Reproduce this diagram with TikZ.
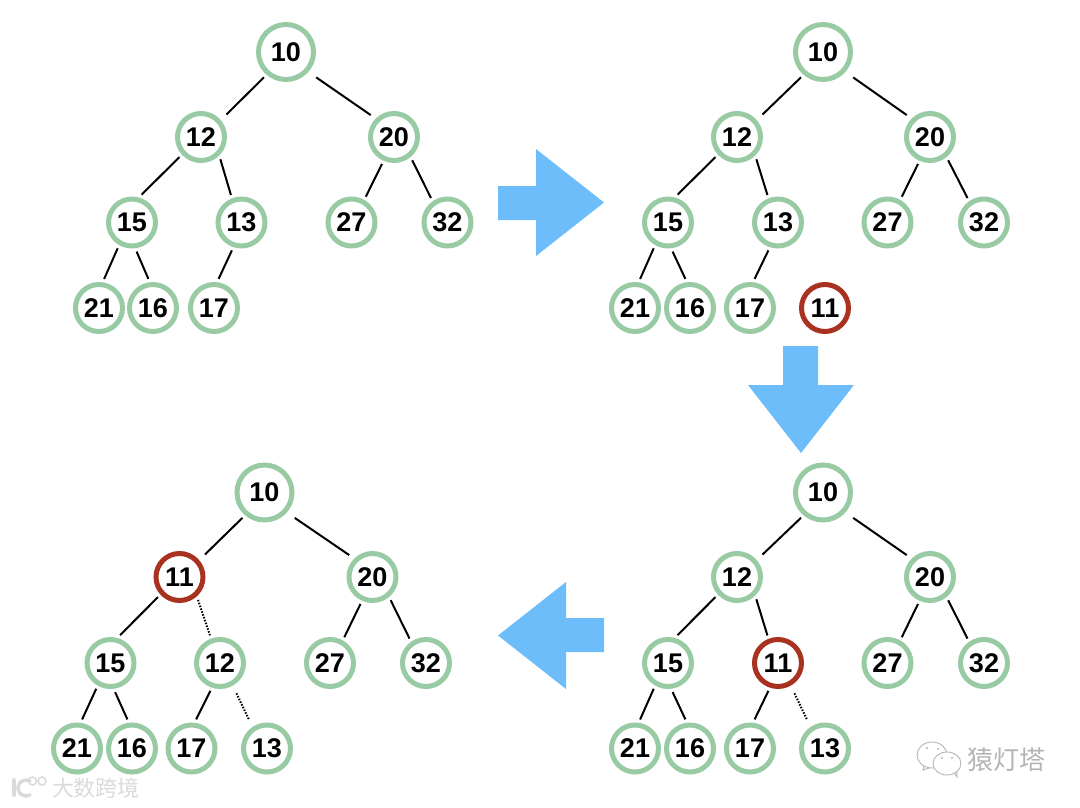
\documentclass[tikz,border=0pt]{standalone}
\usepackage{fontspec}
\setmainfont{Liberation Sans}
\newfontfamily\cjk{Noto Sans CJK SC}
\definecolor{ringgreen}{HTML}{98CBA4}
\definecolor{ringred}{HTML}{A8321F}
\definecolor{arrowblue}{HTML}{6DBDFA}
\definecolor{markgray}{HTML}{DADADA}
\definecolor{chatgray}{HTML}{B4B4B4}

\begin{document}
\begin{tikzpicture}[
    x=1pt, y=-1pt,
    heap_node/.style={circle, draw=ringgreen, line width=5pt, fill=white, inner sep=0pt, outer sep=6pt, minimum size=47pt, font=\fontsize{27}{27}\selectfont\bfseries},
    root_node/.style={heap_node, minimum size=55pt},
    new_node/.style={heap_node, draw=ringred},
    edge_line/.style={line width=2pt},
    left_line/.style={edge_line, shorten >=4.5pt},
    right_line/.style={edge_line, shorten <=6pt, shorten >=2.5pt},
    moved_line/.style={line width=2pt, dash pattern=on 1.5pt off 1.5pt, shorten <=5pt, shorten >=5pt},
    block_arrow/.style={fill=arrowblue},
    mark_text/.style={inner sep=0pt},
    bubble/.style={draw=chatgray, fill=white, line width=0.9pt}
]
    \useasboundingbox (0,0) rectangle (1080,808);

    % first heap
    \node[root_node] (A10) at (286,52) {10};
    \node[heap_node] (A12) at (201,137) {12};
    \node[heap_node] (A20) at (394,137) {20};
    \node[heap_node] (A15) at (132,222.5) {15};
    \node[heap_node] (A13) at (241.5,222.5) {13};
    \node[heap_node] (A27) at (351.5,222.5) {27};
    \node[heap_node] (A32) at (447.5,222.5) {32};
    \node[heap_node] (A21) at (99,308) {21};
    \node[heap_node] (A16) at (153,308) {16};
    \node[heap_node] (A17) at (214,308) {17};
    \draw [left_line] (A10.229) -- (A12.41);
    \draw [right_line] (A10.319) -- (A20.136);
    \draw [edge_line] (A12.223) -- (A15.71);
    \draw [edge_line] (A12.311) -- (A13.111);
    \draw [edge_line] (A20.246) -- (A27.61);
    \draw [edge_line] (A20.308) -- (A32.124);
    \draw [edge_line] (A15.241) -- (A21.80);
    \draw [edge_line] (A15.279) -- (A16.99);
    \draw [edge_line] (A13.251) -- (A17.81);

    % second heap
    \node[root_node] (B10) at (823,52) {10};
    \node[heap_node] (B12) at (737,137) {12};
    \node[heap_node] (B20) at (930,137) {20};
    \node[heap_node] (B15) at (668,222.5) {15};
    \node[heap_node] (B13) at (778,222.5) {13};
    \node[heap_node] (B27) at (887.5,222.5) {27};
    \node[heap_node] (B32) at (984,222.5) {32};
    \node[heap_node] (B21) at (635,308) {21};
    \node[heap_node] (B16) at (690,308) {16};
    \node[heap_node] (B17) at (750,308) {17};
    \node[new_node] (B11) at (825,308) {11};
    \draw [left_line] (B10.229) -- (B12.41);
    \draw [right_line] (B10.319) -- (B20.136);
    \draw [edge_line] (B12.223) -- (B15.71);
    \draw [edge_line] (B12.311) -- (B13.111);
    \draw [edge_line] (B20.246) -- (B27.61);
    \draw [edge_line] (B20.308) -- (B32.124);
    \draw [edge_line] (B15.241) -- (B21.80);
    \draw [edge_line] (B15.279) -- (B16.99);
    \draw [edge_line] (B13.251) -- (B17.81);

    % third heap
    \node[root_node] (C10) at (823,492.5) {10};
    \node[heap_node] (C12) at (737,577) {12};
    \node[heap_node] (C20) at (930,577) {20};
    \node[heap_node] (C15) at (668,663) {15};
    \node[new_node] (C11) at (778,663) {11};
    \node[heap_node] (C27) at (887.5,663) {27};
    \node[heap_node] (C32) at (984,663) {32};
    \node[heap_node] (C21) at (635,748.5) {21};
    \node[heap_node] (C16) at (690,748.5) {16};
    \node[heap_node] (C17) at (750,748.5) {17};
    \node[heap_node] (C13) at (825,748.5) {13};
    \draw [left_line] (C10.229) -- (C12.41);
    \draw [right_line] (C10.319) -- (C20.136);
    \draw [edge_line] (C12.223) -- (C15.71);
    \draw [edge_line] (C12.311) -- (C11.111);
    \draw [edge_line] (C20.246) -- (C27.61);
    \draw [edge_line] (C20.308) -- (C32.124);
    \draw [edge_line] (C15.241) -- (C21.80);
    \draw [edge_line] (C15.279) -- (C16.99);
    \draw [edge_line] (C11.251) -- (C17.81);
    \draw [moved_line] (C11.299) -- (C13.123);

    % fourth heap
    \node[root_node] (D10) at (264.5,492.5) {10};
    \node[new_node] (D11) at (179.5,577) {11};
    \node[heap_node] (D20) at (372.5,577) {20};
    \node[heap_node] (D15) at (110.5,663) {15};
    \node[heap_node] (D12) at (220,663) {12};
    \node[heap_node] (D27) at (330,663) {27};
    \node[heap_node] (D32) at (426,663) {32};
    \node[heap_node] (D21) at (77,748.5) {21};
    \node[heap_node] (D16) at (132,748.5) {16};
    \node[heap_node] (D17) at (191.5,748.5) {17};
    \node[heap_node] (D13) at (267,748.5) {13};
    \draw [left_line] (D10.229) -- (D11.41);
    \draw [right_line] (D10.319) -- (D20.136);
    \draw [edge_line] (D11.223) -- (D15.71);
    \draw [moved_line, shorten <=0pt, shorten >=0pt] (D11.309) -- (D12.110);
    \draw [edge_line] (D20.246) -- (D27.61);
    \draw [edge_line] (D20.308) -- (D32.124);
    \draw [edge_line] (D15.241) -- (D21.80);
    \draw [edge_line] (D15.279) -- (D16.99);
    \draw [edge_line] (D12.251) -- (D17.81);
    \draw [moved_line] (D12.299) -- (D13.123);

    % block arrows
    \fill [block_arrow] (498,186) -- (536,186) -- (536,149) -- (604,202.5) -- (536,256) -- (536,220) -- (498,220) -- cycle;
    \fill [block_arrow] (783,346) -- (818,346) -- (818,385) -- (854,385) -- (801,453) -- (748,385) -- (783,385) -- cycle;
    \fill [block_arrow] (604,618) -- (566,618) -- (566,582) -- (498,635.5) -- (566,689) -- (566,652) -- (604,652) -- cycle;

    % watermarks
    \node[mark_text, text=markgray, font=\cjk\fontsize{22}{22}\selectfont] (W1) at (96,788) {大数跨境};
    \node[mark_text, text=chatgray, font=\cjk\fontsize{26}{26}\selectfont] (W2) at (1006,760) {猿灯塔};
    \draw [markgray, line width=4pt, line cap=round] (14,780) -- (14,795);
    \draw [markgray, line width=3.5pt, line cap=round] (26,788) ++(-60:8) arc (-60:-300:8);
    \draw [markgray, line width=1.6pt] (32.5,781) circle (4) (42,781) circle (4);
    \draw [bubble] (924,766) -- (923,770) -- (932,767);
    \draw [bubble] (932,755) ellipse (15 and 13);
    \draw [bubble] (954,772) -- (957,777) -- (957,770);
    \draw [bubble] (947,763.5) ellipse (14 and 11.5);
    \fill [chatgray] (927,748) circle (1.2) (938,749) circle (1.2) (942,758) circle (1.2) (952,758) circle (1.2);
\end{tikzpicture}
\end{document}
